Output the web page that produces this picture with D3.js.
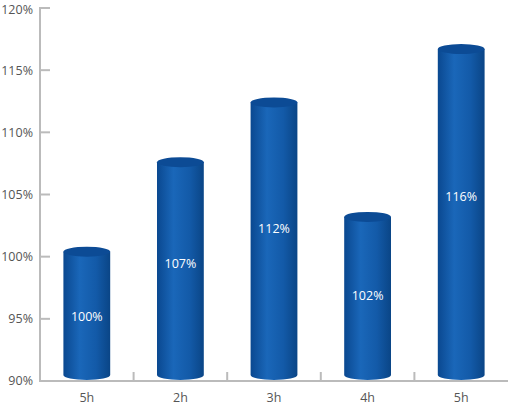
<!DOCTYPE html>
<html><head><meta charset="utf-8">
<script src="https://cdn.jsdelivr.net/npm/d3@7"></script>
<style>body{margin:0;background:#fff}text{font-family:"Open Sans",sans-serif}</style>
</head><body>
<svg width="508" height="406"></svg>
<script>
// данные с картинки
var categories = ["5h", "2h", "3h", "4h", "5h"];
var values = [100.4, 107.6, 112.4, 103.2, 116.7];
var labels = ["100%", "107%", "112%", "102%", "116%"];
var yTicks = [90, 95, 100, 105, 110, 115, 120];

var svg = d3.select("svg");
var x = d3.scaleBand().domain(d3.range(categories.length)).range([40, 508]).paddingInner(0.5).paddingOuter(0.25);
var y = d3.scaleLinear().domain([90, 120]).range([381, 8]);

var defs = svg.append("defs");
var grad = defs.append("linearGradient").attr("id", "cyl");
grad.append("stop").attr("offset", "0%").attr("stop-color", "#0a4890");
grad.append("stop").attr("offset", "35%").attr("stop-color", "#1a67b9");
grad.append("stop").attr("offset", "70%").attr("stop-color", "#135aa8");
grad.append("stop").attr("offset", "100%").attr("stop-color", "#0a4586");

// оси
svg.append("line").attr("x1", 40).attr("x2", 40).attr("y1", 7).attr("y2", 382)
    .attr("stroke", "#bbb").attr("stroke-width", 2);
svg.append("line").attr("x1", 39).attr("x2", 508).attr("y1", 381).attr("y2", 381)
    .attr("stroke", "#bbb").attr("stroke-width", 2);
yTicks.forEach(function(t) {
    svg.append("line").attr("x1", 40).attr("x2", 50).attr("y1", y(t)).attr("y2", y(t))
        .attr("stroke", "#bbb").attr("stroke-width", 2);
    svg.append("text").attr("x", 33).attr("y", Math.max(y(t), 10)).attr("dy", "0.35em").attr("text-anchor", "end")
        .attr("font-size", 12.5).attr("fill", "#555").text(t + "%");
});
for (var i = 1; i < categories.length; i++) {
    var bx = x(i) - x.step() * x.paddingInner() / 2;
    svg.append("line").attr("x1", bx).attr("x2", bx).attr("y1", 372).attr("y2", 381)
        .attr("stroke", "#bbb").attr("stroke-width", 2);
}
categories.forEach(function(c, i) {
    svg.append("text").attr("x", x(i) + x.bandwidth() / 2).attr("y", 398).attr("dy", "0.35em")
        .attr("text-anchor", "middle").attr("font-size", 12.5).attr("fill", "#555").text(c);
});

// цилиндры
var ry = 5, bottom = 375;
values.forEach(function(v, i) {
    var x0 = x(i), w = x.bandwidth(), top = y(v);
    var g = svg.append("g");
    g.append("path").attr("fill", "url(#cyl)")
        .attr("d", "M" + x0 + "," + top + "L" + x0 + "," + bottom +
            "A" + (w / 2) + "," + ry + " 0 0 0 " + (x0 + w) + "," + bottom +
            "L" + (x0 + w) + "," + top + "Z");
    g.append("ellipse").attr("cx", x0 + w / 2).attr("cy", top).attr("rx", w / 2).attr("ry", ry)
        .attr("fill", "#0c4b95");
    g.append("text").attr("x", x0 + w / 2).attr("y", 0.59 * top + 168).attr("dy", "0.35em")
        .attr("text-anchor", "middle").attr("font-size", 12.5).attr("fill", "#fff").text(labels[i]);
});
</script>
</body></html>
